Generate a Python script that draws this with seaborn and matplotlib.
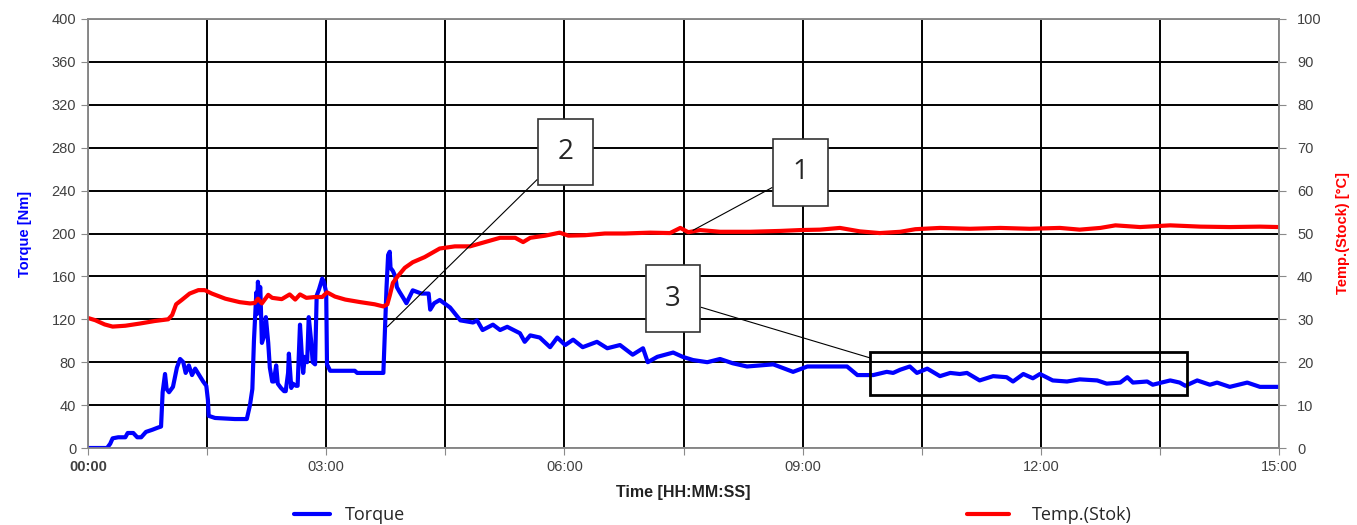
import matplotlib
matplotlib.use("Agg")
import matplotlib.pyplot as plt
from matplotlib.patches import Rectangle
import numpy as np
import pandas as pd
import seaborn as sns

# torque [Nm] over time [min]
torque_t = [0.00, 0.24, 0.28, 0.31, 0.38, 0.47, 0.50, 0.57, 0.62, 0.67,
            0.73, 0.81, 0.88, 0.92, 0.94, 0.97, 0.99, 1.02, 1.07, 1.12,
            1.16, 1.20, 1.23, 1.27, 1.31, 1.35, 1.40, 1.45, 1.49, 1.51,
            1.52, 1.60, 1.85, 2.00, 2.04, 2.07, 2.09, 2.12, 2.13, 2.14,
            2.15, 2.17, 2.19, 2.22, 2.24, 2.27, 2.29, 2.32, 2.34, 2.37,
            2.39, 2.43, 2.47, 2.49, 2.52, 2.53, 2.56, 2.58, 2.62, 2.64,
            2.67, 2.69, 2.71, 2.73, 2.76, 2.78, 2.81, 2.83, 2.86, 2.88,
            2.91, 2.95, 2.97, 3.00, 3.01, 3.05, 3.36, 3.39, 3.72, 3.73,
            3.76, 3.78, 3.80, 3.81, 3.84, 3.87, 3.89, 3.92, 3.97, 4.01,
            4.09, 4.20, 4.29, 4.31, 4.36, 4.43, 4.56, 4.69, 4.85, 4.90,
            4.97, 5.10, 5.19, 5.28, 5.44, 5.50, 5.57, 5.69, 5.82, 5.91,
            6.01, 6.11, 6.23, 6.41, 6.54, 6.70, 6.86, 6.99, 7.05, 7.17,
            7.37, 7.49, 7.62, 7.80, 7.96, 8.12, 8.30, 8.63, 8.88, 9.06,
            9.31, 9.56, 9.69, 9.89, 10.06, 10.14, 10.23, 10.35, 10.44, 10.57,
            10.73, 10.86, 10.98, 11.07, 11.23, 11.40, 11.57, 11.65, 11.78, 11.90,
            11.99, 12.15, 12.33, 12.49, 12.71, 12.83, 13.00, 13.09, 13.16, 13.34,
            13.41, 13.63, 13.75, 13.82, 13.97, 14.13, 14.22, 14.38, 14.60, 14.76,
            15.00]
torque_nm = [0, 0, 4, 9, 10, 10, 14, 14, 10, 10,
             15, 17, 19, 20, 52, 69, 55, 52, 57, 75,
             83, 80, 70, 77, 68, 74, 68, 62, 58, 45,
             30, 28, 27, 27, 40, 55, 100, 145, 125, 155,
             145, 150, 98, 105, 122, 98, 75, 62, 62, 77,
             60, 56, 53, 53, 70, 88, 56, 60, 58, 58,
             115, 90, 70, 85, 80, 122, 100, 80, 78, 142,
             148, 158, 155, 145, 78, 72, 72, 70, 70, 90,
             150, 180, 183, 168, 165, 160, 150, 146, 140, 135,
             147, 144, 144, 129, 135, 138, 131, 119, 117, 119,
             110, 115, 110, 113, 107, 99, 105, 103, 94, 103,
             96, 101, 94, 99, 93, 96, 87, 93, 80, 85,
             89, 85, 82, 80, 83, 79, 76, 78, 71, 76,
             76, 76, 68, 68, 71, 70, 73, 76, 70, 74,
             67, 70, 69, 70, 63, 67, 66, 62, 69, 65,
             69, 63, 62, 64, 63, 60, 61, 66, 61, 62,
             59, 63, 61, 58, 63, 59, 61, 57, 61, 57,
             57]

# stock temperature [°C] over time [min]
temp_t = [0.00, 0.09, 0.21, 0.31, 0.47, 0.65, 0.84, 1.01, 1.06, 1.11,
          1.18, 1.28, 1.39, 1.47, 1.56, 1.73, 1.91, 2.04, 2.10, 2.14,
          2.19, 2.27, 2.32, 2.44, 2.54, 2.61, 2.67, 2.75, 2.86, 2.95,
          3.01, 3.11, 3.24, 3.43, 3.61, 3.72, 3.77, 3.80, 3.84, 3.90,
          3.99, 4.09, 4.24, 4.43, 4.62, 4.81, 5.00, 5.19, 5.38, 5.48,
          5.57, 5.76, 5.94, 6.05, 6.26, 6.51, 6.76, 7.08, 7.33, 7.46,
          7.56, 7.71, 7.96, 8.34, 8.72, 8.97, 9.22, 9.47, 9.72, 9.97,
          10.23, 10.42, 10.73, 11.11, 11.49, 11.86, 12.24, 12.49, 12.75, 12.94,
          13.25, 13.63, 14.01, 14.38, 14.76, 15.00]
temp_c = [30.3, 29.8, 28.8, 28.3, 28.5, 29.0, 29.6, 30.0, 31.0, 33.5,
          34.5, 36.0, 36.8, 36.8, 36.0, 34.8, 34.0, 33.7, 33.8, 34.8,
          33.7, 35.7, 35.0, 34.7, 35.8, 34.6, 35.8, 35.0, 35.2, 35.2,
          36.3, 35.3, 34.6, 34.0, 33.5, 33.0, 33.5, 35.5, 38.5, 40.0,
          42.0, 43.3, 44.5, 46.5, 47.0, 47.0, 48.0, 49.0, 49.0, 48.0,
          49.0, 49.5, 50.2, 49.5, 49.6, 50.0, 50.0, 50.2, 50.1, 51.3,
          50.3, 50.8, 50.4, 50.4, 50.6, 50.8, 50.9, 51.3, 50.5, 50.1,
          50.4, 51.0, 51.3, 51.1, 51.3, 51.1, 51.3, 50.9, 51.3, 51.9,
          51.5, 51.9, 51.6, 51.5, 51.6, 51.5]

x_ticks = [0, 1.5, 3, 4.5, 6, 7.5, 9, 10.5, 12, 13.5, 15]
x_labels = ["00:00", "", "03:00", "", "06:00", "", "09:00", "", "12:00", "", "15:00"]

df_torque = pd.DataFrame({"t": torque_t, "torque": torque_nm})
df_temp = pd.DataFrame({"t": temp_t, "temp": temp_c})

sns.set_style("white")
plt.rcParams["font.family"] = ["Liberation Sans", "DejaVu Sans"]

fig = plt.figure(figsize=(13.57, 5.25), dpi=100)
ax = fig.add_axes([88/1357, 1-448/525, (1279-88)/1357, (448-19)/525])
ax2 = ax.twinx()

sns.lineplot(data=df_torque, x="t", y="torque", ax=ax, color="#0000ff",
             lw=1.5, estimator=None, label="Torque", zorder=3)
sns.lineplot(data=df_temp, x="t", y="temp", ax=ax2, color="#ff0000",
             lw=1.5, estimator=None, label="Temp.(Stok)")

ax.set_xlim(0, 15)
ax.set_ylim(0, 400)
ax2.set_ylim(0, 100)
ax.set_yticks(np.arange(0, 401, 40))
ax2.set_yticks(np.arange(0, 101, 10))
ax.set_xticks(x_ticks)
ax.set_xticklabels(x_labels)
ax.get_xticklabels()[0].set_fontweight("bold")

ax.grid(True, color="black", lw=1.4)
ax.set_axisbelow(True)
ax2.grid(False)
for a in (ax, ax2):
    for s in a.spines.values():
        s.set_color("#8a8a8a")
        s.set_linewidth(1.2)
ax.tick_params(axis="both", direction="out", length=5, color="#8a8a8a",
               labelsize=10.5, labelcolor="#404040", left=True, bottom=True)
ax2.tick_params(axis="y", direction="out", length=5, color="#8a8a8a",
                labelsize=10.5, labelcolor="#404040", right=True, pad=8)

ax.set_xlabel("Time [HH:MM:SS]", fontsize=11.5, fontweight="bold", color="#222222", labelpad=8)
ax.set_ylabel("Torque [Nm]", fontsize=10.5, fontweight="bold", color="#0000ff", labelpad=14)
ax2.set_ylabel("Temp.(Stock) [°C]", fontsize=10.5, fontweight="bold", color="#ff0000", labelpad=10)

# legends under the plot
h1, l1 = ax.get_legend_handles_labels()
h2, l2 = ax2.get_legend_handles_labels()
ax.get_legend().remove()
ax2.get_legend().remove()
for h in h1 + h2:
    h.set_linewidth(3)
fig.legend(h1, l1, loc="center left", bbox_to_anchor=(285/1357, 1-515/525),
           frameon=False, handlelength=2.0, handletextpad=0.8, borderpad=0,
           prop={"family": "Open Sans", "size": 13})
fig.legend(h2, l2, loc="center left", bbox_to_anchor=(958/1357, 1-515/525),
           frameon=False, handlelength=2.3, handletextpad=1.3, borderpad=0,
           prop={"family": "Open Sans", "size": 13})

# numbered callouts
box = dict(boxstyle="square,pad=0.7", fc="white", ec="#333333", lw=1.2)
arrow = dict(arrowstyle="-", color="black", lw=0.8, shrinkA=0, shrinkB=0)
for txt, xy, xytext in [("2", (3.77, 113), (6.01, 276)),
                        ("1", (7.62, 203), (8.97, 257)),
                        ("3", (9.85, 84), (7.37, 139))]:
    ax2.annotate(txt, xy=xy, xytext=xytext, xycoords=ax.transData, textcoords=ax.transData,
                 fontsize=20, ha="center", va="center", bbox=box, arrowprops=arrow,
                 family="Open Sans", zorder=10)

ax.add_patch(Rectangle((9.85, 49.4), 3.99, 40.1, fill=False, ec="black", lw=2, zorder=4))

fig.savefig("out.png", dpi=100)
